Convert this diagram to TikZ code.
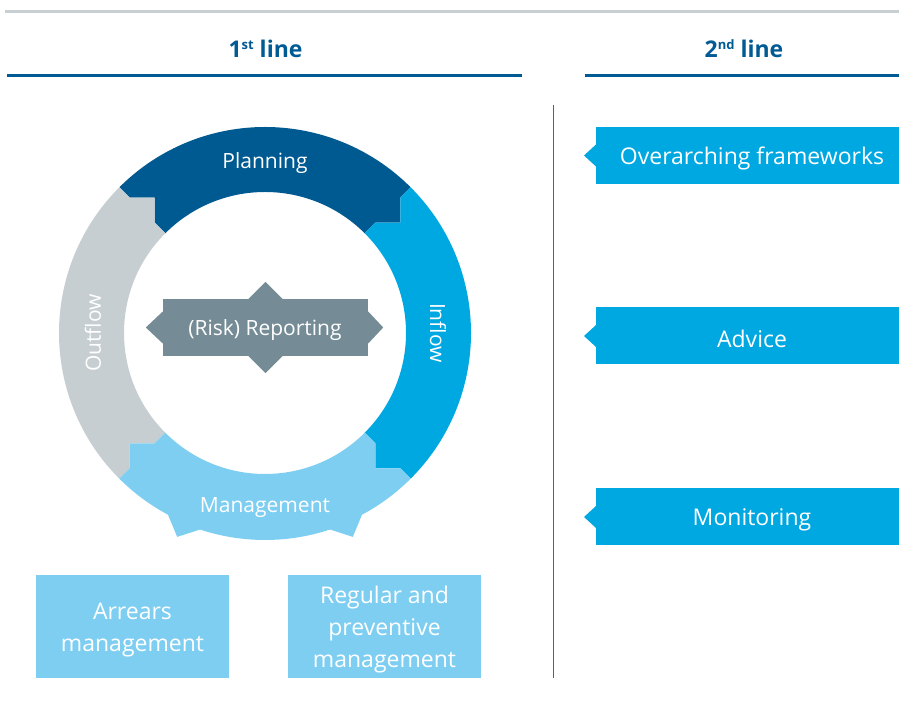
\documentclass[tikz,border=0pt]{standalone}
\usepackage{fontspec}
\setmainfont{Open Sans}
\usetikzlibrary{calc}
\definecolor{cPlan}{HTML}{005A92}
\definecolor{cIn}{HTML}{00A8E1}
\definecolor{cMan}{HTML}{7ECEF2}
\definecolor{cOut}{HTML}{C6CED2}
\definecolor{cRep}{HTML}{758C97}
\definecolor{cHead}{HTML}{005A94}
\definecolor{cTop}{HTML}{C8D0D3}
\definecolor{cVert}{HTML}{5E6062}
\begin{document}
\begin{tikzpicture}[x=1pt,y=1pt,
  ringtext/.style={text=white,font=\fontsize{21}{25}\selectfont,inner sep=0pt},
  boxtext/.style={text=white,font=\fontsize{23}{32}\selectfont,align=center,inner sep=0pt},
  headtext/.style={text=cHead,font=\bfseries\fontsize{23}{26}\selectfont,inner sep=0pt,anchor=base},
  rightbox/.style={fill=cIn,draw=none,minimum width=303pt,minimum height=57pt,anchor=west,inner sep=0pt},
  lowbox/.style={fill=cMan,draw=none,minimum width=193pt,minimum height=103pt,inner sep=0pt},
  headline/.style={draw=cHead,line width=3pt},
]
\useasboundingbox (0,0) rectangle (899,706);

% header
\draw[draw=cTop,line width=3pt] (5,694) -- (899,694);
\node[headtext] (h1) at (265.5,648) {1{\fontsize{13}{13}\selectfont\raisebox{8pt}{st}} line};
\node[headtext] (h2) at (744,648) {2{\fontsize{13}{13}\selectfont\raisebox{8pt}{nd}} line};
\draw[headline] (7,630) -- (522,630);
\draw[headline] (585,630) -- (899,630);

% vertical separator
\draw[draw=cVert,line width=1pt] (553,601) -- (553,28);

% ring: each segment spans [a,b]; tab at a (clockwise end), notch at b
\begin{scope}[shift={(265,373)}]
  \foreach \a/\b/\col in {45/135/cPlan, -45/45/cIn, 135/225/cOut}{
    \fill[\col] (\b:206) arc[start angle=\b,end angle=\a,radius=206]
      -- (\a:191.6) -- ({\a-5.85}:174.7) -- (\a:156) -- (\a:141)
      arc[start angle=\a,end angle=\b,radius=141]
      -- (\b:156) -- ({\b-5.85}:174.7) -- (\b:191.6) -- cycle;
  }
  \fill[cMan] (315:206) arc[start angle=315,end angle=298.1,radius=206] -- (293.3:222) -- (288.3:207)
     arc[start angle=288.3,end angle=251.7,radius=207] -- (246.7:222) -- (241.9:206)
     arc[start angle=241.9,end angle=225,radius=206]
     -- (225:191.6) -- (219.15:174.7) -- (225:156) -- (225:141)
     arc[start angle=225,end angle=315,radius=141]
     -- (315:156) -- (309.15:174.7) -- (315:191.6) -- cycle;
\end{scope}

\node[ringtext] (tplan) at (265,543) {Planning};
\node[ringtext] (tman) at (265,198) {Management};
\node[ringtext,rotate=-90] (tin) at (438,373) {Inflow};
\node[ringtext,rotate=90] (tout) at (93,373) {Outflow};

% reporting
\node[fill=cRep,minimum width=205pt,minimum height=57pt,inner sep=0pt] (repbox) at (265.5,378.5) {};
\fill[cRep] ([yshift=16]repbox.west) -- ([xshift=-17]repbox.west) -- ([yshift=-16]repbox.west) -- cycle;
\fill[cRep] ([yshift=16]repbox.east) -- ([xshift=15]repbox.east) -- ([yshift=-16]repbox.east) -- cycle;
\fill[cRep] ([xshift=-17]repbox.north) -- ([yshift=17]repbox.north) -- ([xshift=17]repbox.north) -- cycle;
\fill[cRep] ([xshift=-17]repbox.south) -- ([yshift=-17]repbox.south) -- ([xshift=17]repbox.south) -- cycle;
\node[ringtext] (rep) at (265,375.5) {(Risk) Reporting};

% lower boxes
\node[lowbox] (arr) at (132.5,79.5) {};
\node[boxtext] (arrt) at (132.5,75.5) {Arrears\\management};
\node[lowbox] (reg) at (384.5,79.5) {};
\node[boxtext] (regt) at (384.5,76.5) {Regular and\\preventive\\management};

% right boxes
\node[rightbox] (b1) at (596,550.5) {};
\node[rightbox] (b2) at (596,370) {};
\node[rightbox] (b3) at (596,189) {};
\foreach \b in {b1,b2,b3}{
  \fill[cIn] ([yshift=11]\b.west) -- ([xshift=-12]\b.west) -- ([yshift=-11]\b.west) -- cycle;
}
\node[boxtext] (b1t) at (752,547.5) {Overarching frameworks};
\node[boxtext] (b2t) at (752,367) {Advice};
\node[boxtext] (b3t) at (752,186) {Monitoring};
\end{tikzpicture}
\end{document}
